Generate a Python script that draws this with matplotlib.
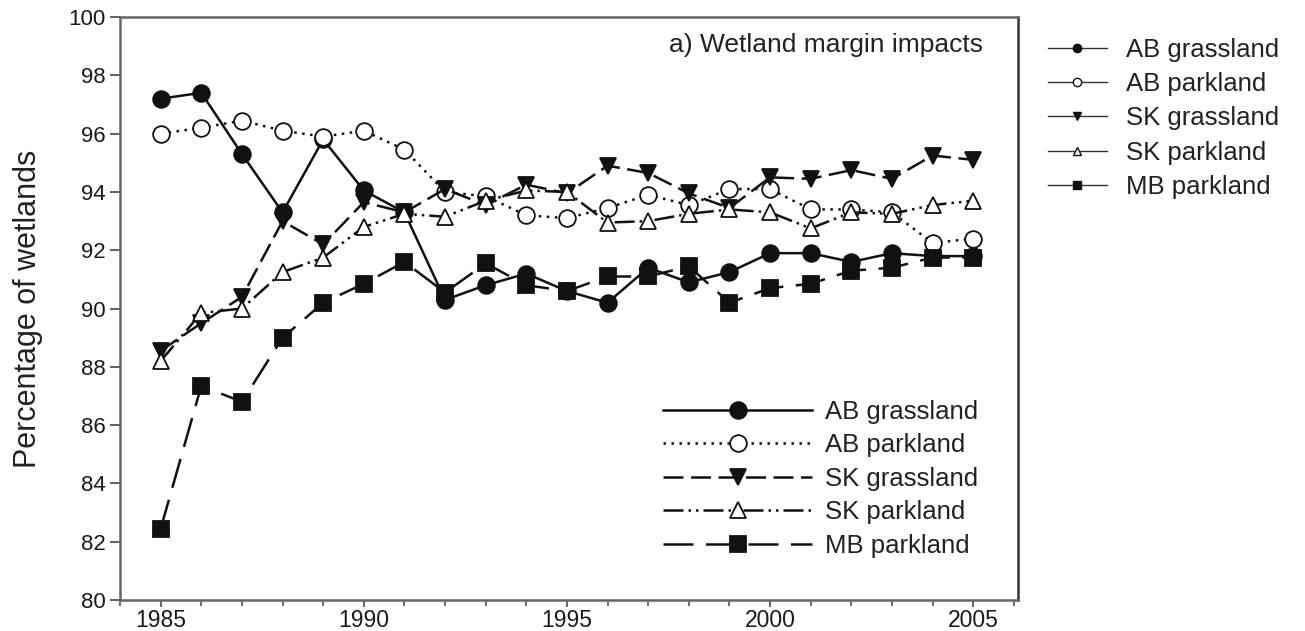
import matplotlib
matplotlib.use("Agg")
import matplotlib.pyplot as plt
from matplotlib.lines import Line2D
from matplotlib.ticker import MultipleLocator

plt.rcParams['font.family'] = ['Liberation Sans', 'DejaVu Sans']

# values, one per year 1985-2005
years = list(range(1985, 2006))
ab_grassland = [97.2, 97.4, 95.3, 93.3, 95.8, 94.05, 93.3, 90.3, 90.8, 91.2, 90.6,
                90.2, 91.4, 90.9, 91.25, 91.9, 91.9, 91.6, 91.9, 91.8, 91.8]
ab_parkland = [96.0, 96.2, 96.45, 96.1, 95.9, 96.1, 95.45, 94.0, 93.85, 93.2, 93.1,
               93.45, 93.9, 93.55, 94.1, 94.1, 93.4, 93.4, 93.3, 92.25, 92.4]
sk_grassland = [88.55, 89.5, 90.4, 93.0, 92.2, 93.65, 93.3, 94.1, 93.55, 94.25, 93.95,
                94.9, 94.65, 93.95, 93.45, 94.5, 94.45, 94.75, 94.45, 95.25, 95.1]
sk_parkland = [88.2, 89.85, 90.0, 91.25, 91.75, 92.8, 93.25, 93.15, 93.7, 94.05, 94.0,
               92.95, 93.0, 93.25, 93.4, 93.3, 92.75, 93.3, 93.25, 93.55, 93.7]
mb_parkland = [82.45, 87.35, 86.8, 89.0, 90.2, 90.85, 91.6, 90.55, 91.55, 90.8, 90.6,
               91.1, 91.1, 91.45, 90.2, 90.7, 90.85, 91.3, 91.4, 91.75, 91.75]

series_names = ["AB grassland", "AB parkland", "SK grassland", "SK parkland", "MB parkland"]
series_values = [ab_grassland, ab_parkland, sk_grassland, sk_parkland, mb_parkland]
markers = ["o", "o", "v", "^", "s"]
faces = ["#111111", "white", "#111111", "white", "#111111"]
styles = ["-", (0, (1, 2.2)), (0, (8, 3)), (0, (8, 2, 1, 2, 1, 2)), (0, (12, 5))]

fig = plt.figure(figsize=(13.05, 6.31), dpi=100)
ax = fig.add_axes([0.092, 0.049, 0.688, 0.924])

for name, vals, mk, fc, ls in zip(series_names, series_values, markers, faces, styles):
    ax.plot(years, vals, linestyle=ls, color="#111111", lw=1.8,
            marker=mk, markersize=12, markerfacecolor=fc,
            markeredgecolor="#111111", markeredgewidth=1.3, label=name)

ax.set_xlim(1984.0, 2006.1)
ax.set_ylim(80, 100)
ax.set_xticks(range(1985, 2006, 5))
ax.xaxis.set_minor_locator(MultipleLocator(1))
ax.set_yticks(range(80, 101, 2))
ax.tick_params(axis="y", which="major", direction="out", length=7, width=1.3,
               color="#555555", labelsize=16, labelcolor="#1a1a1a")
ax.tick_params(axis="x", which="major", direction="out", length=5, width=1.3, pad=1.5,
               color="#555555", labelsize=16.5, labelcolor="#1a1a1a")
ax.tick_params(axis="x", which="minor", direction="out", length=4, width=1.2, color="#555555")
for side in ["left", "bottom", "top"]:
    ax.spines[side].set_color("#666666")
    ax.spines[side].set_linewidth(1.8)
ax.spines["right"].set_color("#333333")
ax.spines["right"].set_linewidth(1.8)

ax.set_ylabel("Percentage of wetlands", fontsize=22, color="#222222", labelpad=18)
ax.text(0.961, 0.952, "a) Wetland margin impacts", transform=ax.transAxes,
        ha="right", va="center", fontsize=19, color="#222222")

ax.legend(loc="upper left", bbox_to_anchor=(0.605, 0.344), frameon=False,
          fontsize=18.5, numpoints=1, handlelength=5.8, handletextpad=0.5,
          labelspacing=0.37, borderpad=0, borderaxespad=0, labelcolor="#222222")

# small key outside the axes
key_handles = [Line2D([], [], color="#333333", lw=1.0, marker=mk, markersize=6,
                      markerfacecolor=fc, markeredgecolor="#111111", markeredgewidth=1.0)
               for mk, fc in zip(markers, faces)]
fig.legend(key_handles, series_names, loc="upper left", bbox_to_anchor=(0.803, 0.94),
           frameon=False, fontsize=18.5, numpoints=1, handlelength=2.3,
           handletextpad=0.75, labelspacing=0.4, borderpad=0, borderaxespad=0,
           labelcolor="#222222")

fig.savefig("out.png", dpi=100)
